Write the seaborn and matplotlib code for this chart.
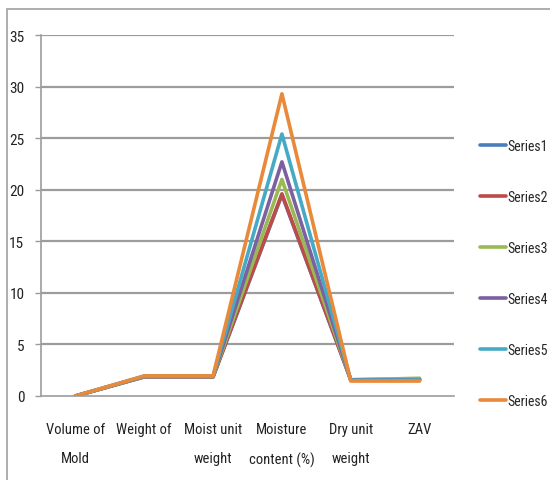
import matplotlib
matplotlib.use("Agg")
import matplotlib.pyplot as plt
import seaborn as sns
import pandas as pd
import numpy as np
from matplotlib.lines import Line2D
from matplotlib.patches import Rectangle
from matplotlib import font_manager

categories = ["Volume of\nMold", "Weight of", "Moist unit\nweight", "Moisture\ncontent (%)", "Dry unit\nweight", "ZAV"]
series_names = ["Series1", "Series2", "Series3", "Series4", "Series5", "Series6"]
series1 = [0.0009, 1.85, 1.85, 19.5, 1.58, 1.62]
series2 = [0.0009, 1.86, 1.86, 19.6, 1.57, 1.60]
series3 = [0.0009, 1.88, 1.88, 21.0, 1.56, 1.72]
series4 = [0.0009, 1.90, 1.90, 22.7, 1.55, 1.58]
series5 = [0.0009, 1.92, 1.92, 25.4, 1.53, 1.55]
series6 = [0.0009, 1.95, 1.95, 29.3, 1.45, 1.45]
colors = ["#4A7EBB", "#BE4B48", "#98B954", "#7D60A0", "#46AAC5", "#E98A3A"]
y_ticks = [0, 5, 10, 15, 20, 25, 30, 35]

sns.set_theme(style="white")
names = {f.name for f in font_manager.fontManager.ttflist}
cond = [n for n in ["Liberation Sans Narrow", "Roboto Condensed", "Open Sans Condensed", "DejaVu Sans Condensed"] if n in names]
plt.rcParams['font.family'] = cond + ['DejaVu Sans']
plt.rcParams['font.stretch'] = 'condensed'

all_series = [series1, series2, series3, series4, series5, series6]
rows = []
for name, vals in zip(series_names, all_series):
    for i, v in enumerate(vals):
        rows.append({"series": name, "pos": i, "value": v})
df = pd.DataFrame(rows)

fig = plt.figure(figsize=(5.5, 4.81), dpi=100)
ax = fig.add_axes([41/550, 1-397/481, (454-41)/550, (397-36)/481])

sns.lineplot(data=df, x="pos", y="value", hue="series", palette=colors,
             linewidth=2.6, ax=ax, legend=False, sort=False)

fs = 10.5
grid_c = "#9c9c9c"
ax.set_xlim(-0.5, len(categories) - 0.5)
ax.set_ylim(0, 35)
ax.set_yticks(y_ticks)
ax.set_yticklabels([str(t) for t in y_ticks], fontsize=11, color="#222222")
for t in y_ticks[1:]:
    ax.axhline(t, color=grid_c, linewidth=1.6, zorder=0)
ax.set_xticks(range(len(categories)))
ax.set_xticklabels(categories, fontsize=fs, color="#222222", linespacing=2.3)
ax.set_xticks(np.arange(-0.5, len(categories), 1.0), minor=True)
ax.tick_params(axis="x", which="major", length=0, pad=19)
ax.tick_params(axis="x", which="minor", length=5, width=1, color=grid_c, direction="out")
ax.tick_params(axis="y", which="major", length=4, width=1, color=grid_c, direction="out", pad=8, left=True)
ax.set_xlabel("")
ax.set_ylabel("")
for s in ["top", "right"]:
    ax.spines[s].set_visible(False)
for s in ["left", "bottom"]:
    ax.spines[s].set_color(grid_c)
    ax.spines[s].set_linewidth(1.2)

handles = [Line2D([0], [0], color=c, linewidth=2.6) for c in colors]
fig.legend(handles, series_names, loc="upper left", bbox_to_anchor=(473/550, 1-133/481),
           frameon=False, fontsize=10, handlelength=1.85, handletextpad=0.1,
           labelspacing=2.66, borderpad=0)

fig.patches.append(Rectangle((7/550, -0.1), 1.2, 1.1 - 10/481, transform=fig.transFigure,
                             fill=False, edgecolor="#a0a0a0", linewidth=1.2))

fig.savefig("out.png", dpi=100)
